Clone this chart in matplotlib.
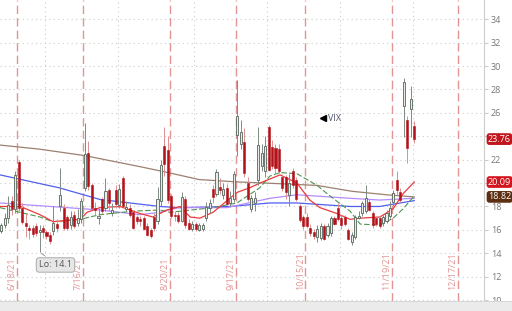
import matplotlib
matplotlib.use("Agg")
import matplotlib.pyplot as plt
from matplotlib.patches import Rectangle
import matplotlib.transforms as mtransforms

plt.rcParams["font.family"] = ["Open Sans", "DejaVu Sans"]

# ---- data: trading-day index (0 = 2021-06-01) and OHLC ----
idx = list(range(8, 129))
opens = [16.2, 15.9, 16.4, 17.0, 18.5, 17.8, 21.8, 17.9, 16.6, 16.2,
         16.2, 16.3, 15.8, 16.2, 15.8, 15.6, 15.9, 16.5, 18.0, 17.9,
         17.1, 16.4, 17.3, 16.6, 16.9, 19.6, 22.6, 19.8, 17.9, 17.0,
         18.6, 17.9, 19.4, 17.4, 19.4, 18.1, 20.4, 17.8, 17.9, 17.5,
         17.1, 16.9, 17.0, 16.3, 16.0, 17.1, 16.8, 18.5, 23.2, 22.8,
         18.9, 17.3, 17.3, 16.8, 18.6, 16.6, 16.1, 16.5, 16.0, 16.1,
         17.0, 17.9, 19.5, 19.1, 19.7, 19.0, 19.6, 18.3, 18.6, 24.1,
         23.3, 23.5, 20.0, 17.8, 18.3, 20.3, 21.5, 21.0, 24.8, 23.1,
         23.0, 22.9, 20.5, 20.5, 19.0, 21.0, 20.3, 18.0, 17.1, 17.1,
         16.2, 15.8, 15.4, 15.3, 16.3, 15.6, 15.7, 17.0, 17.9, 17.0,
         17.1, 16.0, 15.0, 15.4, 17.0, 17.4, 17.6, 18.4, 17.4, 17.0,
         17.0, 16.6, 16.8, 17.2, 18.4, 20.3, 19.2, 26.6, 25.4, 26.3,
         24.9]
highs = [16.6, 16.6, 17.4, 18.9, 18.9, 21.0, 22.0, 18.3, 17.4, 16.4,
         16.4, 16.6, 16.4, 16.4, 16.0, 15.8, 18.0, 16.9, 21.3, 18.2,
         17.3, 17.6, 17.6, 17.8, 18.7, 25.1, 23.6, 20.0, 18.4, 17.9,
         18.8, 20.4, 19.6, 18.3, 19.8, 19.9, 20.6, 18.5, 18.2, 17.7,
         17.3, 17.2, 17.2, 16.6, 16.2, 17.4, 19.7, 22.0, 24.8, 24.0,
         19.1, 17.6, 17.5, 19.2, 18.9, 16.9, 16.8, 16.7, 16.6, 16.6,
         18.4, 18.6, 19.8, 21.2, 20.4, 20.0, 19.9, 19.3, 21.0, 28.8,
         25.4, 24.7, 20.5, 19.0, 19.2, 24.8, 23.3, 24.0, 25.0, 23.7,
         23.3, 23.3, 20.8, 20.7, 20.8, 21.3, 20.5, 18.2, 17.3, 17.4,
         16.5, 16.1, 16.4, 16.6, 16.5, 16.6, 17.2, 17.2, 18.3, 17.3,
         17.3, 16.2, 15.8, 17.3, 17.6, 18.5, 19.8, 18.6, 17.6, 17.2,
         17.2, 17.3, 17.7, 18.5, 19.4, 21.0, 19.6, 29.0, 25.7, 28.3,
         25.3]
lows = [15.4, 15.7, 16.2, 16.6, 17.3, 17.4, 17.6, 16.5, 15.4, 15.2,
        15.4, 15.5, 14.1, 15.3, 15.2, 14.8, 15.6, 15.8, 17.6, 16.0,
        16.0, 16.1, 16.2, 16.3, 16.6, 19.3, 19.4, 17.9, 17.3, 16.5,
        17.4, 17.6, 17.6, 17.2, 17.9, 17.9, 18.0, 17.6, 17.1, 16.1,
        16.5, 16.3, 16.0, 15.5, 15.3, 15.9, 16.5, 18.0, 20.6, 18.3,
        17.0, 16.8, 16.6, 16.7, 16.2, 16.0, 15.9, 15.9, 15.9, 15.9,
        16.8, 17.4, 18.3, 18.9, 19.1, 18.6, 18.1, 18.0, 18.4, 22.3,
        22.9, 20.5, 18.5, 17.5, 17.6, 19.8, 21.0, 20.5, 21.0, 21.2,
        20.9, 20.9, 19.3, 18.6, 18.0, 19.6, 18.5, 16.7, 16.1, 16.2,
        15.5, 15.2, 15.0, 15.1, 15.1, 15.4, 15.5, 16.4, 16.8, 16.1,
        16.3, 15.1, 14.7, 15.2, 16.9, 17.2, 17.4, 17.6, 16.2, 16.3,
        16.2, 16.3, 16.6, 17.0, 18.0, 19.0, 18.4, 23.9, 21.7, 23.9,
        23.4]
closes = [15.65, 16.39, 17.02, 18.15, 17.75, 20.70, 17.89, 16.66, 16.32, 15.97,
          15.62, 15.76, 16.02, 15.83, 15.48, 15.07, 16.60, 16.20, 19.00, 16.18,
          16.17, 17.12, 16.33, 17.01, 18.45, 22.50, 19.73, 17.91, 17.69, 17.20,
          17.58, 19.36, 18.31, 17.70, 18.24, 19.46, 18.04, 17.97, 17.28, 16.15,
          16.72, 16.79, 16.06, 15.59, 15.45, 16.12, 18.60, 21.57, 21.60, 18.56,
          17.15, 17.22, 16.79, 18.84, 16.39, 16.11, 16.48, 16.11, 16.41, 16.41,
          17.96, 18.31, 18.80, 20.95, 19.37, 19.46, 18.18, 18.69, 20.81, 25.71,
          24.36, 20.87, 18.63, 18.70, 18.76, 23.25, 22.56, 23.14, 21.15, 21.50,
          21.30, 21.00, 19.54, 19.20, 20.00, 19.85, 18.64, 16.86, 16.30, 16.30,
          15.70, 15.49, 16.10, 16.30, 15.24, 16.30, 16.98, 16.53, 16.90, 16.41,
          16.50, 15.20, 15.60, 17.10, 17.22, 18.30, 18.73, 17.70, 16.40, 16.49,
          16.37, 17.11, 17.40, 17.91, 19.17, 19.38, 18.58, 28.62, 22.96, 27.19,
          23.76]

# moving averages read at sparse points (index, value)
ma_brown_x = [8.6, 20, 33, 49, 57, 66, 77, 89, 100, 110, 120, 128]
ma_brown_y = [23.25, 22.9, 22.35, 21.4, 20.9, 20.3, 20.1, 19.95, 19.8, 19.3, 19.0, 18.82]
ma_blue_x = [8.6, 25.6, 37.4, 54.7, 60, 75, 86.4, 94.2, 109.5, 118, 124, 128]
ma_blue_y = [20.7, 19.6, 18.6, 18.0, 17.9, 18.0, 18.3, 18.3, 18.0, 18.0, 18.3, 18.5]
ma_purple_x = [8.6, 25.6, 37.4, 48.9, 54.7, 60, 74, 86.4, 94.2, 109.5, 118, 128]
ma_purple_y = [18.3, 17.95, 17.7, 17.3, 17.5, 17.9, 17.9, 18.7, 19.0, 18.7, 18.55, 18.7]
ma_red_x = [8.6, 14.5, 20.1, 23.9, 31.7, 33.7, 37.4, 43.2, 48.9, 52.7, 56.7, 60.5,
            63.4, 66.2, 70, 76.9, 80.6, 83.5, 89.3, 94.2, 97.9, 100.8, 105.7,
            109.5, 112.4, 118.1, 121.9, 124.8, 128]
ma_red_y = [18.0, 18.0, 17.3, 16.7, 16.9, 17.5, 17.9, 18.0, 17.4, 17.1, 17.7, 18.0,
            17.1, 17.0, 17.5, 19.2, 19.6, 20.0, 20.7, 20.0, 18.55, 17.9, 17.4,
            16.9, 17.0, 17.1, 17.8, 19.1, 20.09]
ma_green_x = [8.6, 20.1, 23.9, 31.7, 37.4, 47, 54.7, 57.6, 70, 76.9, 83.5, 86.4,
              89.3, 94.2, 100, 103.7, 109.5, 112.4, 118.1, 121.9, 124.8, 128]
ma_green_y = [17.9, 17.1, 16.7, 16.9, 17.3, 17.6, 17.7, 17.5, 17.9, 18.3, 19.6, 20.6,
              20.9, 20.8, 19.8, 18.9, 17.6, 16.5, 16.4, 17.0, 17.8, 18.9]

expiry_idx = [13, 32, 57, 76, 96, 121, 140]
expiry_lbl = ["6/18/21", "7/16/21", "8/20/21", "9/17/21", "10/15/21", "11/19/21", "12/17/21"]
month_start_idx = [22, 43, 65, 86, 107, 128]
yticks = list(range(10, 36, 2))
low_idx, low_val = 20, 14.1
last_labels = [(23.76, "23.76", "#c0161c"), (20.09, "20.09", "#d4151f"), (18.82, "18.82", "#5c2f12")]

# ---- figure ----
W, H = 512, 311
fig = plt.figure(figsize=(W / 100, H / 100), dpi=100)
ax = fig.add_axes([0, 10 / H, 484 / W, 301 / H])
ax.set_xlim(8.6, 148.1)
ax.set_ylim(9.92, 35.65)

for v in yticks:
    ax.axhline(v, color="#cccccc", lw=0.8, ls=(0, (1, 3)), zorder=0)
for m in month_start_idx:
    ax.axvline(m - 0.5, color="#cccccc", lw=0.8, ls=(0, (1, 3)), zorder=0)
for e, lbl in zip(expiry_idx, expiry_lbl):
    ax.axvline(e + 0.5, color="#e39595", lw=1.0, ls=(0, (6, 3)), zorder=1)
    ax.text(e + 0.5 - 1.35, 10.85, lbl, rotation=90, ha="center", va="bottom",
            color="#e39393", fontsize=6.5, zorder=2)

# moving averages
ax.plot(ma_brown_x, ma_brown_y, color="#9c8070", lw=0.9, zorder=2)
ax.plot(ma_blue_x, ma_blue_y, color="#4f5ff0", lw=0.9, zorder=2)
ax.plot(ma_purple_x, ma_purple_y, color="#b48cff", lw=0.9, zorder=2)
ax.plot(ma_green_x, ma_green_y, color="#4e954e", lw=0.8, ls=(0, (5, 2)), zorder=2)
ax.plot(ma_red_x, ma_red_y, color="#ec3b3b", lw=0.9, zorder=2)

# candles
bw = 0.6
for x, o, h, l, c in zip(idx, opens, highs, lows, closes):
    up = c >= o
    wick_c = "#7f8c82" if up else "#d98f8f"
    ax.vlines(x, l, h, color=wick_c, lw=0.7, zorder=3)
    bot = min(o, c)
    hgt = max(abs(c - o), 0.08)
    if up:
        ax.bar(x, hgt, bottom=bot, width=bw, facecolor="#e8ebe8",
               edgecolor="#55645a", lw=0.6, zorder=4)
    else:
        ax.bar(x, hgt, bottom=bot, width=bw, facecolor="#b3121a",
               edgecolor="#b3121a", lw=0.4, zorder=4)

# low annotation
ax.annotate("Lo: 14.1", xy=(low_idx, low_val + 0.05), xytext=(24.6, 13.0),
            ha="center", va="center", fontsize=6.5, color="#555555",
            bbox=dict(boxstyle="round,pad=0.3", fc="#e6e6e6", ec="#aaaaaa", lw=0.7),
            arrowprops=dict(arrowstyle="-", color="#999999", lw=0.8), zorder=6)

# symbol marker
ax.plot([101.6], [25.56], marker="<", color="black", ms=4.5, zorder=6)
ax.text(103.2, 25.56, "VIX", fontsize=6.5, color="#4a4f6a", va="center", ha="left", zorder=6)

# right axis
for s in ["left", "top", "bottom"]:
    ax.spines[s].set_visible(False)
ax.spines["right"].set_color("#cccccc")
ax.spines["right"].set_linewidth(0.8)
ax.set_xticks([])
ax.yaxis.tick_right()
ax.set_yticks(yticks)
ax.set_yticklabels([str(v) for v in yticks])
ax.tick_params(axis="y", length=3, width=0.8, color="#cccccc", labelsize=6.5,
               labelcolor="#777777", pad=2)

tr = mtransforms.blended_transform_factory(ax.transAxes, ax.transData)
for v, s, col in last_labels:
    ax.text(1.0 + 4.0 / 484, v, s, transform=tr, ha="left", va="center", fontsize=6.5,
            color="white", clip_on=False, zorder=7,
            bbox=dict(boxstyle="round,pad=0.15,rounding_size=0.3", fc=col, ec="none"))

fig.add_artist(Rectangle((0, 0), 1, 10 / H, transform=fig.transFigure,
                         facecolor="#ebebeb", edgecolor="none", zorder=10))
fig.add_artist(Rectangle((0, 9.5 / H), 1, 0.8 / H, transform=fig.transFigure,
                         facecolor="#d6d6d6", edgecolor="none", zorder=11))

fig.savefig("out.png", dpi=100)
